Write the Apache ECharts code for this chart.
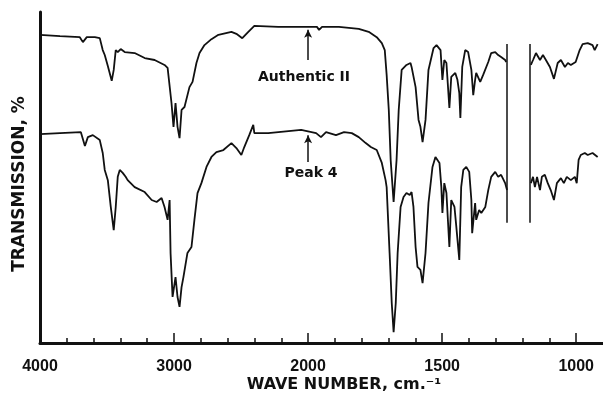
<!DOCTYPE html>
<html>
<head>
<meta charset="utf-8">
<script src="https://cdn.jsdelivr.net/npm/echarts@6/dist/echarts.min.js"></script>
<style>
  html, body { margin: 0; padding: 0; background: #fff; }
  #chart { width: 603px; height: 395px; }
</style>
</head>
<body>
<div id="chart"></div>
<script>
// IR spectra, wave number (cm-1) vs transmission (%)
const authWave = [4000,3851,3703,3680,3651,3591,3554,3532,3517,3494,3465,3450,3435,3420,3398,3368,3294,3219,3145,3071,
  3048,3019,3004,2989,2974,2959,2944,2922,2885,2862,2833,2810,2773,2721,2669,2572,2535,2491,2446,2401,
  2223,2052,1967,1959,1948,1885,1811,1774,1744,1725,1714,1707,1699,1692,1681,1670,1662,1651,1633,1618,
  1614,1599,1588,1581,1573,1562,1551,1532,1521,1506,1499,1492,1484,1473,1466,1451,1443,1436,1432,1425,
  1414,1403,1391,1384,1377,1373,1358,1347,1328,1317,1302,1291,1280,1265,1261,1169,1161,1150,1135,1124,
  1113,1098,1083,1069,1057,1042,1031,1020,1002,987,976,957,939,931,920];
const authTrans = [93.1,92.7,92.4,90.9,92.4,92.4,92.1,88.5,87.0,83.7,79.2,82.5,88.5,87.9,88.8,87.9,87.6,86.1,85.5,84.0,
  83.1,72.5,65.3,72.5,65.3,61.9,70.4,71.3,77.3,78.9,84.6,87.6,90.0,91.8,93.1,94.0,93.4,92.1,94.0,95.8,
  95.5,95.5,95.5,94.6,95.5,95.5,94.9,94.0,92.4,90.6,88.5,81.0,70.4,55.3,42.6,55.3,70.4,82.5,84.0,84.6,
  83.4,77.3,67.4,65.3,60.7,67.4,82.5,89.1,90.0,88.5,79.5,85.5,84.6,71.0,80.4,81.6,79.5,75.5,68.0,83.4,
  88.5,87.9,82.5,74.9,79.5,81.6,78.9,81.0,84.9,87.6,87.9,87.0,86.4,85.5,84.9,84.0,85.5,87.6,85.5,87.0,
  85.5,83.4,79.8,84.6,85.5,83.4,84.6,84.0,84.9,88.5,90.3,90.6,90.0,88.5,90.3];

const peakWave = [4000,3851,3695,3665,3643,3606,3554,3532,3517,3494,3472,3450,3435,3420,3405,3383,3361,3346,3294,3219,
  3167,3130,3093,3071,3048,3033,3026,3011,2989,2974,2959,2944,2930,2900,2870,2848,2825,2796,2758,2721,
  2684,2632,2572,2535,2498,2476,2439,2409,2401,2297,2052,1970,1952,1933,1896,1866,1837,1811,1785,1766,
  1744,1725,1711,1707,1696,1688,1681,1673,1666,1655,1644,1633,1621,1614,1607,1599,1592,1581,1573,1562,
  1551,1536,1525,1510,1503,1499,1492,1484,1473,1466,1454,1447,1436,1429,1421,1410,1399,1391,1388,1377,
  1373,1362,1354,1339,1328,1317,1302,1291,1280,1265,1258,1169,1161,1154,1146,1135,1128,1117,1106,1095,
  1083,1072,1057,1046,1035,1020,1005,998,991,983,968,957,939,920];
const peakTrans = [63.1,63.4,63.7,59.5,62.2,62.8,61.3,57.4,52.3,49.2,41.1,34.1,41.1,50.2,52.3,51.4,50.2,49.2,47.1,45.6,
  43.2,42.6,43.8,41.1,37.2,43.2,27.2,13.9,19.9,13.9,10.9,16.9,19.9,27.2,29.0,37.2,45.3,48.3,53.2,56.2,
  57.7,58.3,60.4,58.9,56.8,59.2,62.8,65.9,63.4,63.4,64.4,63.4,62.2,63.7,62.8,63.7,63.4,62.2,60.4,59.2,
  58.3,54.4,49.2,47.1,27.2,12.1,3.3,12.1,27.2,41.1,44.1,45.3,44.7,45.6,41.1,29.0,23.0,22.1,18.1,27.2,
  42.3,53.2,56.2,54.4,47.1,39.3,48.3,45.3,29.0,43.2,41.1,35.0,25.1,47.1,52.3,53.2,51.7,43.2,33.2,42.3,
  37.2,40.2,39.3,41.1,46.2,50.2,51.7,50.2,50.8,48.3,46.2,48.3,50.2,47.1,50.2,46.2,50.2,50.8,48.3,46.2,
  43.2,48.3,49.8,48.3,50.2,49.2,50.2,48.3,55.3,56.8,57.4,56.8,57.4,56.2];

const tickLabels = [4000, 3000, 2000, 1500, 1000];
const gapMarks = [1258, 1172];          // recorder change, no trace between these
const arrowWave = 2000;
const authArrow = [85.5, 94.6];
const peakArrow = [54.7, 62.8];
const gapSpan = [36.3, 90.3];

// chart paper changes scale at 2000 cm-1 (twice as wide below)
const toAxis = w => w >= 2000 ? 4000 - w : 2000 + 2 * (2000 - w);
const fromAxis = u => u <= 2000 ? 4000 - u : 2000 - (u - 2000) / 2;

function toPoints(waves, trans) {
  const pts = [];
  waves.forEach((w, i) => {
    // break the trace across the recorder gap
    if (i > 0 && waves[i - 1] >= gapMarks[0] && w <= gapMarks[1]) pts.push([toAxis(w), '-']);
    pts.push([toAxis(w), trans[i]]);
  });
  return pts;
}

const chart = echarts.init(document.getElementById('chart'));
const ink = '#111';
const font = 'Liberation Sans, Arial, sans-serif';
const wide = '"DejaVu Sans", sans-serif';

chart.setOption({
  animation: false,
  grid: { left: 40, right: -2, top: 12, bottom: 52 },
  xAxis: {
    type: 'value',
    min: 0,
    max: 4200,
    interval: 1000,
    axisLine: { lineStyle: { color: ink, width: 3 } },
    axisTick: { inside: true, length: 10, lineStyle: { color: ink, width: 1.5 },
      customValues: tickLabels.map(toAxis) },
    minorTick: { show: true, splitNumber: 5, length: 5, lineStyle: { color: ink, width: 1.5 } },
    axisLabel: {
      customValues: tickLabels.map(toAxis),
      formatter: v => String(Math.round(fromAxis(v))),
      color: ink, fontSize: 16, fontWeight: 'bold', fontFamily: font, margin: 16
    },
    splitLine: { show: false }
  },
  yAxis: {
    type: 'value',
    min: 0,
    max: 100,
    axisLine: { show: true, lineStyle: { color: ink, width: 3 } },
    axisTick: { show: false },
    axisLabel: { show: false },
    splitLine: { show: false }
  },
  series: [
    {
      name: 'Authentic II',
      type: 'line',
      data: toPoints(authWave, authTrans),
      showSymbol: false,
      lineStyle: { color: ink, width: 1.8 },
      markLine: {
        silent: true,
        symbol: ['none', 'none'],
        label: { show: false },
        lineStyle: { color: ink, width: 1.5, type: 'solid' },
        data: [
          [{ coord: [toAxis(arrowWave), authArrow[0]] },
           { coord: [toAxis(arrowWave), authArrow[1]], symbol: 'arrow', symbolSize: [6, 8] }],
          ...gapMarks.map(w => [{ coord: [toAxis(w), gapSpan[0]] }, { coord: [toAxis(w), gapSpan[1]] }])
        ]
      }
    },
    {
      name: 'Peak 4',
      type: 'line',
      data: toPoints(peakWave, peakTrans),
      showSymbol: false,
      lineStyle: { color: ink, width: 1.8 },
      markLine: {
        silent: true,
        symbol: ['none', 'none'],
        label: { show: false },
        lineStyle: { color: ink, width: 1.5, type: 'solid' },
        data: [
          [{ coord: [toAxis(arrowWave), peakArrow[0]] },
           { coord: [toAxis(arrowWave), peakArrow[1]], symbol: 'arrow', symbolSize: [6, 8] }]
        ]
      }
    }
  ],
  graphic: [
    { type: 'text', x: 304, y: 77,
      style: { text: 'Authentic II', fill: ink, font: 'bold 14px ' + wide,
        align: 'center', verticalAlign: 'middle' } },
    { type: 'text', x: 311, y: 173,
      style: { text: 'Peak 4', fill: ink, font: 'bold 14px ' + wide,
        align: 'center', verticalAlign: 'middle' } },
    { type: 'text', x: 20, y: 184, rotation: Math.PI / 2,
      style: { text: 'TRANSMISSION, %', fill: ink, font: 'bold 17px ' + wide,
        align: 'center', verticalAlign: 'middle' } },
    { type: 'text', x: 344, y: 385,
      style: { text: 'WAVE NUMBER, cm.⁻¹', fill: ink, font: 'bold 16px ' + wide,
        align: 'center', verticalAlign: 'middle' } }
  ]
});
</script>
</body>
</html>
